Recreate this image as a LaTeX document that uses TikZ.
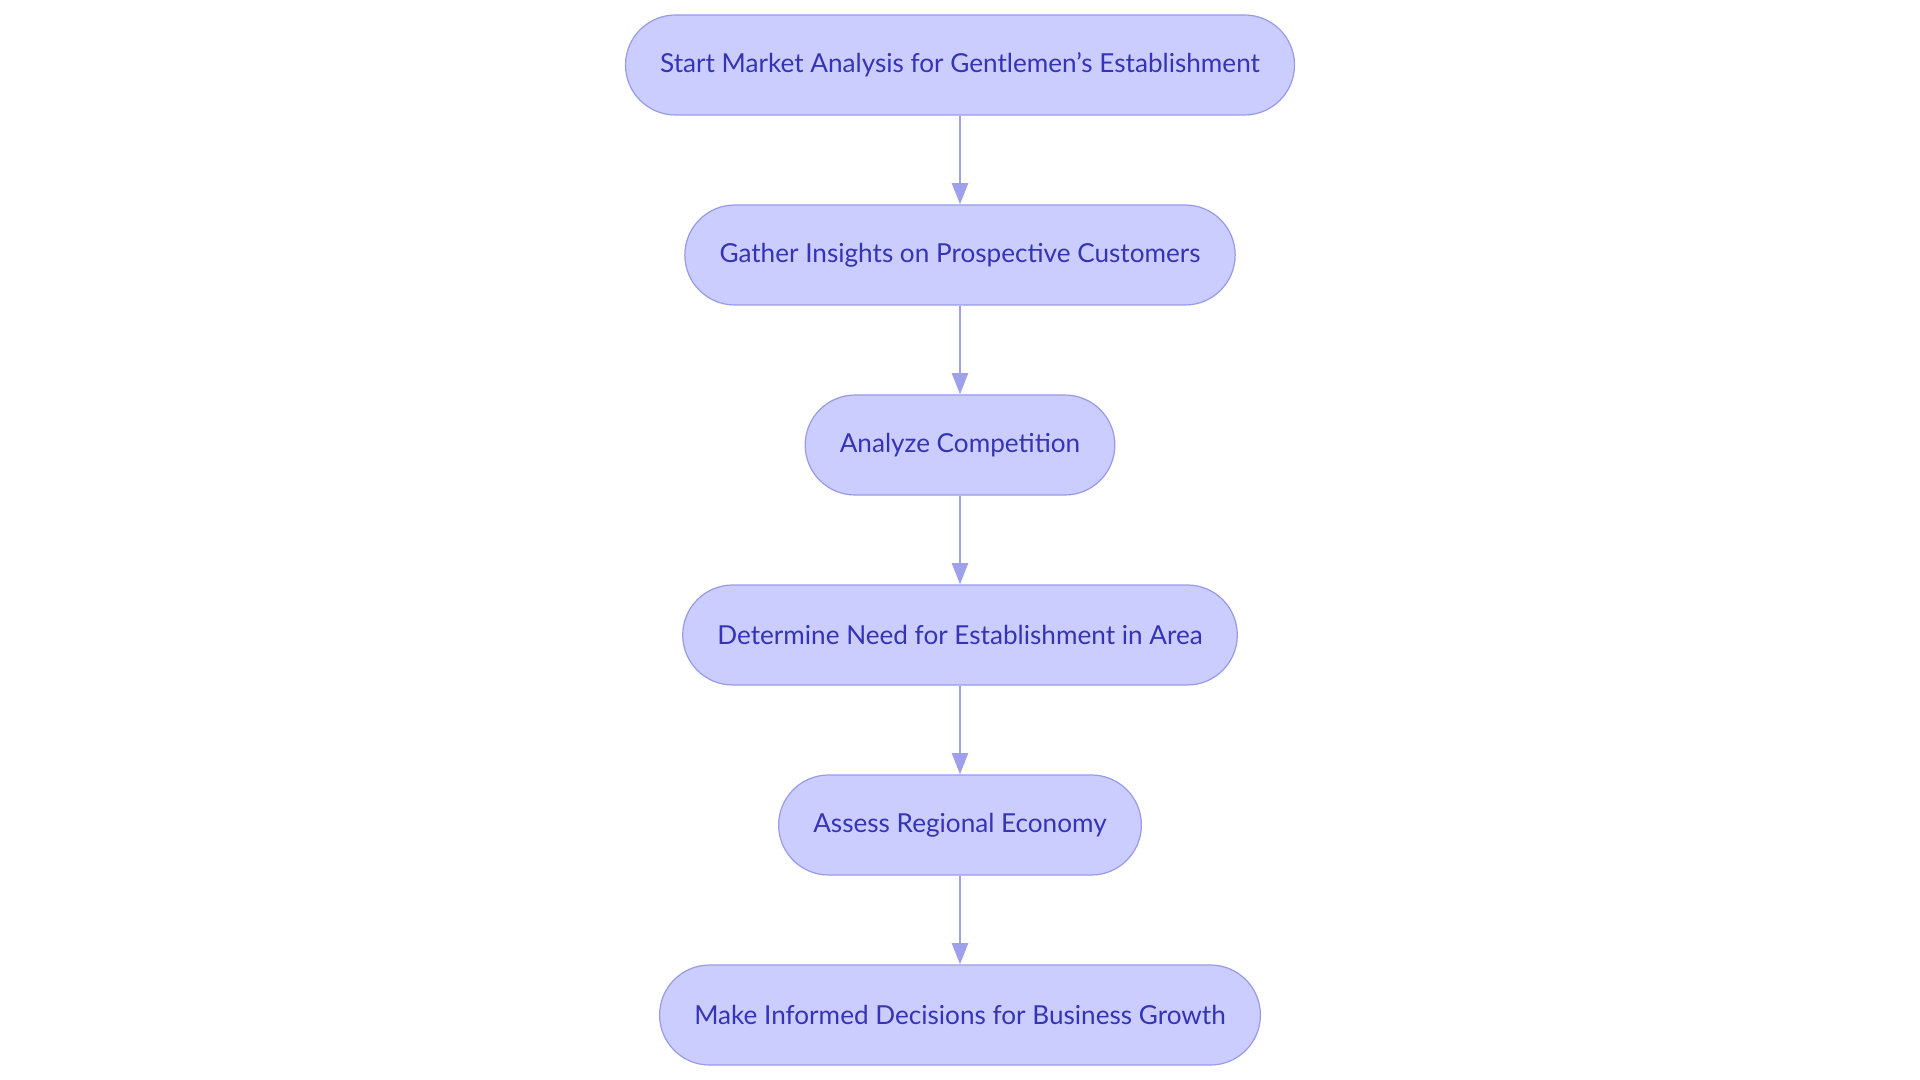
\documentclass[tikz,border=0pt]{standalone}
\usepackage{fontspec}
\setmainfont{Lato}
\usepackage{tikz}
\usetikzlibrary{arrows.meta, % for the triangle tips
                positioning}

\definecolor{boxfill}{RGB}{203,204,255}
\definecolor{boxline}{RGB}{152,154,232}
\definecolor{boxtext}{RGB}{52,52,180}
\definecolor{linkcol}{RGB}{158,160,236}

\begin{document}
\begin{tikzpicture}[node distance=66.6pt,
                    Stage/.style={draw=boxline, line width=0.9pt, fill=boxfill, rounded corners=37.5pt,
                                  minimum height=75pt, inner xsep=26pt, inner ysep=0pt,
                                  text=boxtext, font=\fontsize{19.6}{22}\selectfont},
                    flow/.style={-{Triangle[length=16pt, width=12pt]}, line width=2pt, linkcol}
                    ]

    \useasboundingbox (0,0) rectangle (1440pt,-810pt);

    % STEPS %
    \node[Stage] (S0) at (720pt,-48.75pt) {Start Market Analysis for Gentlemen’s Establishment};
    \node[Stage, below=of S0] (S1) {Gather Insights on Prospective Customers};
    \node[Stage, below=of S1] (S2) {Analyze Competition};
    \node[Stage, below=of S2] (S3) {Determine Need for Establishment in Area};
    \node[Stage, below=of S3] (S4) {Assess Regional Economy};
    \node[Stage, below=of S4] (S5) {Make Informed Decisions for Business Growth};

    % LINKS %
    \foreach \x/\y in {0/1,1/2,2/3,3/4,4/5}
    \draw[flow] (S\x) -- (S\y);

\end{tikzpicture}
\end{document}
